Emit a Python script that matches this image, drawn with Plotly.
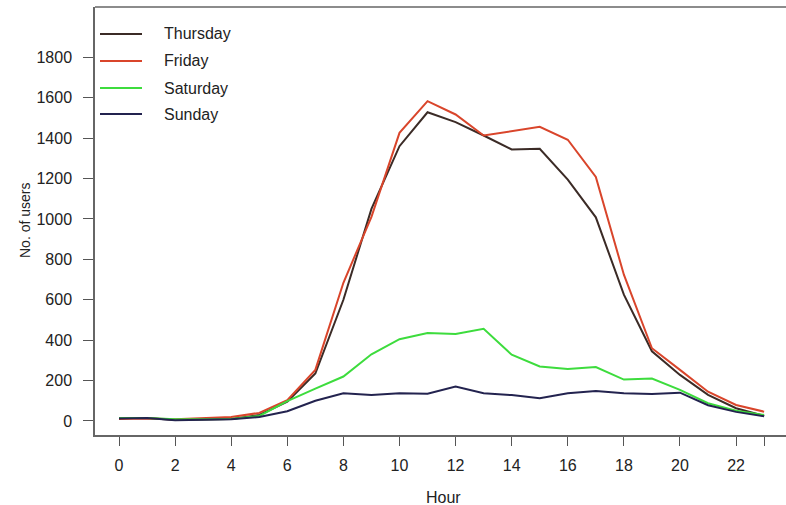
import plotly.graph_objects as go

hours = list(range(24))
series_names = ["Thursday", "Friday", "Saturday", "Sunday"]
thursday = [15, 15, 5, 8, 10, 30, 95, 235, 600, 1050, 1360, 1528, 1479, 1413, 1344, 1347, 1195, 1008, 625, 345, 228, 129, 63, 25]
friday = [10, 12, 8, 15, 20, 40, 103, 253, 684, 1010, 1426, 1583, 1517, 1413, 1434, 1456, 1392, 1208, 724, 360, 253, 145, 79, 46]
saturday = [15, 15, 8, 8, 10, 25, 98, 160, 220, 330, 405, 435, 430, 456, 328, 270, 257, 267, 205, 210, 154, 88, 51, 30]
sunday = [12, 15, 3, 7, 8, 20, 48, 100, 137, 128, 137, 135, 170, 137, 128, 112, 137, 148, 137, 133, 140, 78, 45, 23]
colors = ["#3b2b26", "#d9452b", "#3ddc3d", "#23234f"]
x_tickvals = [0, 2, 4, 6, 8, 10, 12, 14, 16, 18, 20, 22, 23]
x_ticktext = ["0", "2", "4", "6", "8", "10", "12", "14", "16", "18", "20", "22", ""]
y_tickvals = [0, 200, 400, 600, 800, 1000, 1200, 1400, 1600, 1800]

W, H = 786, 505
L, R, T, B = 95, 0, 7, 70
PW, PH = W - L - R, H - T - B

def px(xp):
    return (xp - L) / PW

def py(yp):
    return (H - B - yp) / PH

FONT = "Liberation Sans, Arial, sans-serif"
fig = go.Figure()
for name, vals, c in zip(series_names, [thursday, friday, saturday, sunday], colors):
    fig.add_trace(go.Scatter(x=hours, y=vals, mode="lines", name=name,
                             line=dict(color=c, width=2), showlegend=False))

shapes = [dict(type="line", xref="paper", yref="paper", x0=0, x1=1, y0=1, y1=1,
               line=dict(color="#666666", width=1.5))]
annotations = []
legend_rows = [34, 61, 88, 114]
for name, c, yr in zip(series_names, colors, legend_rows):
    shapes.append(dict(type="line", xref="paper", yref="paper", x0=px(100), x1=px(142),
                       y0=py(yr), y1=py(yr), line=dict(color=c, width=2)))
    annotations.append(dict(text=name, xref="paper", yref="paper", x=px(162), y=py(yr),
                            xanchor="left", yanchor="middle", showarrow=False,
                            font=dict(family=FONT, size=16, color="#222222")))
annotations.append(dict(text="No. of users", xref="paper", yref="paper", x=px(25), y=0.5,
                        textangle=-90, xanchor="center", yanchor="middle", showarrow=False,
                        font=dict(family=FONT, size=14, color="#222222")))
annotations.append(dict(text="Hour", xref="paper", yref="paper", x=px(443), y=py(497),
                        xanchor="center", yanchor="middle", showarrow=False,
                        font=dict(family=FONT, size=16, color="#222222")))

fig.update_layout(
    width=W, height=H, margin=dict(l=L, r=R, t=T, b=B),
    plot_bgcolor="white", paper_bgcolor="white",
    shapes=shapes, annotations=annotations,
    xaxis=dict(range=[-0.856, 23.78], tickvals=x_tickvals, ticktext=x_ticktext,
               showgrid=False, zeroline=False, showline=True, linecolor="#666666", linewidth=1.5,
               ticks="outside", ticklen=9, tickwidth=1.3, tickcolor="#555555",
               ticklabelstandoff=6,
               tickfont=dict(family=FONT, size=16, color="#222222")),
    yaxis=dict(range=[-69.4, 2049], tickvals=y_tickvals,
               showgrid=False, zeroline=False, showline=True, linecolor="#666666", linewidth=1.5,
               ticks="outside", ticklen=10, tickwidth=1.3, tickcolor="#555555",
               ticklabelstandoff=8,
               tickfont=dict(family=FONT, size=16, color="#222222")),
)
fig.write_html("out.html", config={"displayModeBar": False},
               post_script="document.body.style.margin='0';document.body.style.overflow='hidden';")
